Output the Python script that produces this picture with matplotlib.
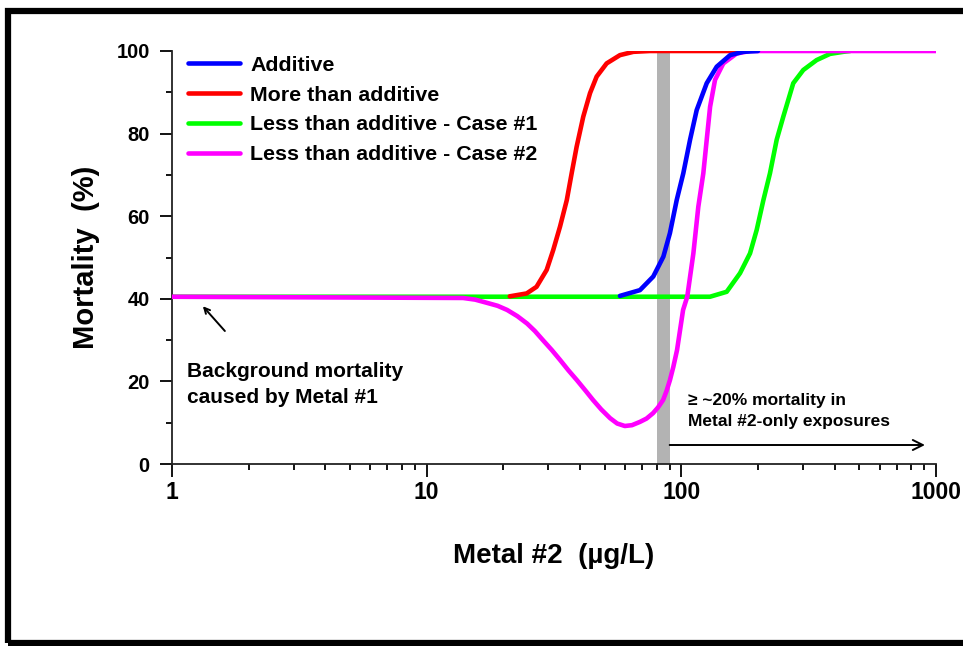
import matplotlib.pyplot as plt
from matplotlib.patches import Rectangle
from matplotlib.ticker import FixedLocator, NullFormatter

plt.rcParams['font.family'] = ['Liberation Sans', 'DejaVu Sans']
plt.rcParams['font.weight'] = 'bold'

# Additive (blue)
add_x = [57.4, 68.8, 77.6, 85, 90.2, 95.9, 101.8, 108.2, 114.9, 125.8, 137.7, 155.4, 175, 200]
add_y = [40.7, 42.1, 45.4, 50.2, 55.9, 63.9, 70.4, 78.5, 85.7, 92.2, 96.2, 99, 99.8, 100]

# More than additive (red)
more_x = [21.2, 24.7, 27, 29.6, 31.4, 33.4, 35.5, 37.1, 38.8, 41.2, 43.8, 46.5, 50.9,
          57.4, 64.8, 75.3, 180]
more_y = [40.6, 41.3, 42.9, 47, 51.8, 57.5, 63.9, 70.4, 76.8, 84.1, 89.8, 93.8, 97,
          99, 99.8, 100, 100]

# Less than additive - Case #1 (green)
less1_x = [1, 14, 129.6, 150.7, 170, 186.1, 197.7, 210, 222.9, 236.8, 251.4, 275.1,
           301.2, 339.8, 383.5, 432.5, 460]
less1_y = [40.5, 40.5, 40.5, 41.7, 46.2, 51, 56.7, 63.9, 70.4, 78.5, 84.1, 92.2,
           95.4, 97.8, 99.3, 99.8, 100]

# Less than additive - Case #2 (magenta)
less2_x = [1, 13.9, 15.5, 17.3, 19, 20.7, 22.7, 24.8, 26.6, 28.6, 31, 33.4, 36, 38.9,
           42, 45, 48.5, 52.5, 56, 60, 64, 68.8, 73, 77.4, 81, 84.8, 87.5, 90.2, 93,
           96.2, 101.6, 105.5, 111.5, 116.6, 122, 125.8, 129.7, 135.6, 146.2, 164.9,
           186, 1000]
less2_y = [40.5, 40.2, 39.8, 39, 38.3, 37.3, 35.8, 34, 32.2, 30, 27.6, 25.2, 22.7, 20.3,
           17.8, 15.5, 13.2, 11.1, 9.8, 9.2, 9.4, 10.2, 11, 12.3, 13.7, 15.5, 17.7, 20.3,
           23.5, 27.6, 37.3, 40.5, 51, 62.3, 70.4, 78.5, 86.5, 93, 97, 99.4,
           100, 100]

# Shaded band and arrow (Metal #2 only effect range)
band_lo, band_hi = 80, 90
arrow_start, arrow_end, arrow_level = 90, 905, 4.6

fig = plt.figure(figsize=(9.63, 6.46), dpi=100)
ax = fig.add_axes([172 / 963, 1 - 464 / 646, (936 - 172) / 963, (464 - 51) / 646])

ax.fill_betweenx([0, 100], band_lo, band_hi, color='#b3b3b3', lw=0, zorder=1)

lw = 3.3
ax.plot(less1_x, less1_y, color='#00ff00', lw=lw, label='Less than additive - Case #1',
        zorder=2, solid_capstyle='round')
ax.plot(less2_x, less2_y, color='#ff00ff', lw=lw, label='Less than additive - Case #2',
        zorder=3, solid_capstyle='round')
ax.plot(more_x, more_y, color='#ff0000', lw=lw, label='More than additive',
        zorder=4, solid_capstyle='round')
ax.plot(add_x, add_y, color='#0000ff', lw=lw, label='Additive',
        zorder=4, solid_capstyle='round')

ax.set_xscale('log')
ax.set_xlim(1, 1000)
ax.set_ylim(0, 100)

ax.set_xticks([1, 10, 100, 1000])
ax.set_xticklabels(['1', '10', '100', '1000'])
minors = [m * d for d in (1, 10, 100) for m in range(2, 10)]
ax.xaxis.set_minor_locator(FixedLocator(minors))
ax.xaxis.set_minor_formatter(NullFormatter())
ax.set_yticks([0, 20, 40, 60, 80, 100])
ax.set_yticks([10, 30, 50, 70, 90], minor=True)

ax.tick_params(which='major', direction='out', length=9, width=1.3)
ax.tick_params(which='minor', direction='out', length=4.5, width=1.3)
ax.tick_params(axis='x', which='major', labelsize=16.5, pad=3)
ax.tick_params(axis='y', which='major', labelsize=14.5, pad=7)
for lab in ax.get_xticklabels() + ax.get_yticklabels():
    lab.set_fontweight('bold')

for s in ('top', 'right'):
    ax.spines[s].set_visible(False)
for s in ('left', 'bottom'):
    ax.spines[s].set_linewidth(1.3)
    ax.spines[s].set_color('#222222')

ax.set_xlabel('Metal #2  (µg/L)', fontsize=20, fontweight='bold', labelpad=28)
ax.set_ylabel('Mortality  (%)', fontsize=21, fontweight='bold', labelpad=12)

# Legend order as in the reference
handles, labels = ax.get_legend_handles_labels()
order = [3, 2, 0, 1]
leg = ax.legend([handles[i] for i in order], [labels[i] for i in order],
                loc='upper left', bbox_to_anchor=(0.021, 0.988), frameon=False,
                fontsize=15.4, handlelength=2.43, handletextpad=0.47,
                labelspacing=0.5, borderaxespad=0, borderpad=0)
for t in leg.get_texts():
    t.set_fontweight('bold')

# Annotations
ax.annotate('', xy=(1.3, 38.7), xytext=(1.64, 31.7),
            arrowprops=dict(arrowstyle='->', color='black', lw=1.4))
ax.text(1.145, 19.3, 'Background mortality\ncaused by Metal #1', fontsize=15,
        fontweight='bold', va='center', ha='left', linespacing=1.45)

ax.annotate('', xy=(arrow_end, arrow_level), xytext=(arrow_start, arrow_level),
            arrowprops=dict(arrowstyle='->', color='black', lw=1.4,
                            mutation_scale=18, shrinkA=0, shrinkB=0))
ax.text(106.3, 12.8, '≥ ~20% mortality in\nMetal #2-only exposures', fontsize=12.5,
        fontweight='bold', va='center', ha='left', linespacing=1.5)

# Outer frame
fig.patches.append(Rectangle((8 / 963, 3 / 646), 1.2, 1 - 14 / 646, transform=fig.transFigure,
                             fill=False, edgecolor='black', lw=4.5, zorder=10))

fig.savefig('out.png', dpi=100)
